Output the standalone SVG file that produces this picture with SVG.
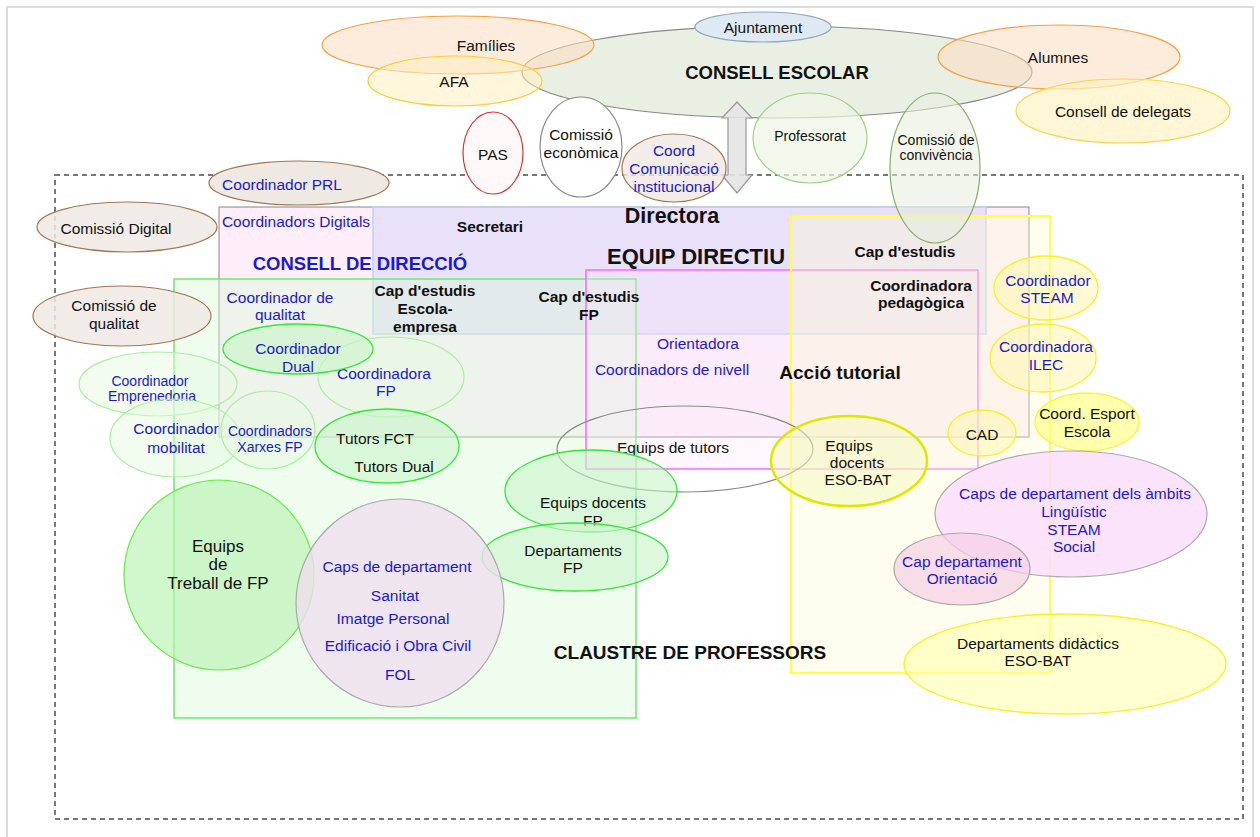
<svg xmlns="http://www.w3.org/2000/svg" width="1260" height="837" viewBox="0 0 1260 837">
<style>
text{font-family:"Liberation Sans",Arial,sans-serif;font-size:15.5px;fill:#111;text-anchor:middle;dominant-baseline:central}
.b{fill:#1a1acc}
.bold{font-weight:bold}
.s14{font-size:14px}
.brown{fill:#efe9e4;stroke:#a07850;stroke-width:1.2}
.gs{fill:#c9f5c9;fill-opacity:.6;stroke:#33e833;stroke-width:1.3}
.gl{fill:#e6fae0;fill-opacity:.5;stroke:#a8f0a0;stroke-width:1.2}
.yl{fill:#fff6b0;fill-opacity:.55;stroke:#ffee22;stroke-width:1.3}
</style>
<rect x="0" y="0" width="1260" height="837" fill="#fff"/>
<rect x="7" y="7" width="1246" height="845" fill="none" stroke="#ddd" stroke-width="2"/>
<g id="frame">
<rect x="55" y="175" width="1188" height="644" fill="none" stroke="#777" stroke-width="2" stroke-dasharray="5,4"/>
</g>
<g id="consell-direccio">
<rect x="219" y="207" width="810" height="230" fill="#fdeefa" stroke="#999" stroke-width="1.2"/>
</g>
<g id="equip-directiu">
<rect x="373" y="207" width="613" height="127" fill="#d8d6f8" fill-opacity=".55" stroke="#c0d0ee" stroke-width="1.5"/>
</g>
<g id="claustre">
<rect x="174" y="279" width="462" height="439" fill="#d8fbd8" fill-opacity=".4" stroke="#66ee66" stroke-width="1.5"/>
</g>
<g id="accio-tutorial">
<rect x="586" y="270" width="392" height="199" fill="#fde8fb" fill-opacity=".3" stroke="#ff66ff" stroke-width="1.5"/>
</g>
<g id="eso-bat">
<rect x="791" y="216" width="259" height="457" fill="#fffbcf" fill-opacity=".35" stroke="#ffff44" stroke-width="2"/>
</g>

<g id="n-consell-escolar"><ellipse cx="777" cy="72" rx="255" ry="46" fill="#e6ecdf" fill-opacity=".85" stroke="#888" stroke-width="1.2"/></g>
<g id="n-families"><ellipse cx="458" cy="45" rx="136" ry="29" fill="#fbdcc0" fill-opacity=".55" stroke="#f7a040" stroke-width="1.2"/><text x="486" y="45">Famílies</text></g>
<g id="n-afa"><ellipse cx="455" cy="81" rx="87" ry="25" fill="#ffefc0" fill-opacity=".55" stroke="#ffcc33" stroke-width="1.2"/><text x="454" y="81">AFA</text></g>
<g id="t-consell-escolar"><text class="bold" x="777" y="72" style="font-size:18.5px">CONSELL ESCOLAR</text></g>
<g id="n-ajuntament"><ellipse cx="763" cy="27" rx="68" ry="15" fill="#dfe9f3" stroke="#8fa6bc" stroke-width="1.2"/><text x="763" y="27">Ajuntament</text></g>
<g id="n-alumnes"><ellipse cx="1059" cy="57" rx="121" ry="32" fill="#fbdcc0" fill-opacity=".55" stroke="#f7a040" stroke-width="1.2"/><text x="1058" y="57">Alumnes</text></g>
<g id="n-delegats"><ellipse cx="1123" cy="111" rx="107" ry="32" fill="#fff2c4" fill-opacity=".7" stroke="#ffd24a" stroke-width="1.2"/><text x="1123" y="111">Consell de delegats</text></g>
<g id="n-pas"><ellipse cx="493" cy="153" rx="30" ry="41" fill="#fff8f8" stroke="#dd3333" stroke-width="1.2"/><text x="493" y="154">PAS</text></g>
<g id="n-economica"><ellipse cx="581" cy="147" rx="41" ry="50" fill="#fff" stroke="#888" stroke-width="1.2"/><text x="581" y="134">Comissió</text><text x="581" y="152">econòmica</text></g>
<g id="n-professorat"><ellipse cx="810" cy="138" rx="57" ry="45" fill="#eef5e6" fill-opacity=".7" stroke="#a6cc80" stroke-width="1.2"/><text class="s14" x="810" y="136">Professorat</text></g>
<g id="n-convivencia"><ellipse cx="935" cy="168" rx="45" ry="75" fill="#e6ecdc" fill-opacity=".55" stroke="#88aa66" stroke-width="1.2"/><text class="s14" x="936" y="140">Comissió de</text><text class="s14" x="936" y="155">convivència</text></g>

<g id="connectors">
<path d="M737,102 L752,118 L746,118 L746,175 L752,175 L737,193 L722,175 L728,175 L728,118 L722,118 Z" fill="#e4e4e4" fill-opacity=".9" stroke="#999" stroke-width="1.2"/>
</g>

<g id="n-comunicacio"><ellipse cx="674" cy="168" rx="52" ry="34" class="brown" fill-opacity=".8"/><text class="b" x="674" y="150">Coord</text><text class="b" x="674" y="168">Comunicació</text><text class="b" x="674" y="186">institucional</text></g>
<g id="n-prl"><ellipse cx="299" cy="183" rx="90" ry="22" class="brown"/><text class="b" x="282" y="184">Coordinador PRL</text></g>
<g id="n-com-digital"><ellipse cx="127" cy="227" rx="90" ry="25" class="brown" fill-opacity=".85"/><text x="116" y="228">Comissió Digital</text></g>
<g id="n-com-qualitat"><ellipse cx="122" cy="316" rx="89" ry="30" class="brown" fill-opacity=".85"/><text x="114" y="305">Comissió de</text><text x="114" y="323">qualitat</text></g>

<g id="labels-direccio">
<text class="b" x="296" y="221">Coordinadors Digitals</text>
<text class="bold" x="490" y="226">Secretari</text>
<text class="bold" x="672" y="216" style="font-size:21.5px">Directora</text>
<text class="bold b" x="360" y="263" style="font-size:18.5px">CONSELL DE DIRECCIÓ</text>
<text class="bold" x="696" y="256" style="font-size:22px">EQUIP DIRECTIU</text>
<text class="bold" x="905" y="251">Cap d'estudis</text>
<text class="b" x="280" y="297">Coordinador de</text>
<text class="b" x="280" y="314">qualitat</text>
<text class="bold" x="425" y="290">Cap d'estudis</text>
<text class="bold" x="425" y="308">Escola-</text>
<text class="bold" x="425" y="326">empresa</text>
<text class="bold" x="589" y="296">Cap d'estudis</text>
<text class="bold" x="589" y="314">FP</text>
<text class="bold" x="921" y="285">Coordinadora</text>
<text class="bold" x="921" y="302">pedagògica</text>
<text class="b" x="698" y="343">Orientadora</text>
<text class="b" x="672" y="369">Coordinadors de nivell</text>
<text class="bold" x="840" y="372" style="font-size:19px">Acció tutorial</text>
<text class="bold" x="690" y="652" style="font-size:19px">CLAUSTRE DE PROFESSORS</text>
</g>

<g id="n-steam"><ellipse cx="1046" cy="288" rx="52" ry="32" class="yl" fill="#fde8b0"/><text class="b" x="1048" y="280">Coordinador</text><text class="b" x="1047" y="297">STEAM</text></g>
<g id="n-ilec"><ellipse cx="1043" cy="358" rx="53" ry="34" class="yl" fill="#fde8b0"/><text class="b" x="1046" y="346">Coordinadora</text><text class="b" x="1046" y="364">ILEC</text></g>
<g id="n-esport"><ellipse cx="1087" cy="422" rx="52" ry="29" fill="#ffff90" fill-opacity=".75" stroke="#ffee44" stroke-width="1.3"/><text x="1087" y="413">Coord. Esport</text><text x="1087" y="431">Escola</text></g>
<g id="n-cad"><ellipse cx="982" cy="433" rx="34" ry="23" class="yl"/><text x="982" y="434">CAD</text></g>

<g id="n-emprenedoria"><ellipse cx="158" cy="384" rx="79" ry="32" class="gl"/><text class="b s14" x="150" y="381">Coordinador</text><text class="b s14" x="152" y="396">Emprenedoria</text></g>
<g id="n-mobilitat"><ellipse cx="175" cy="438" rx="65" ry="39" class="gl"/><text class="b" x="176" y="428">Coordinador</text><text class="b" x="176" y="447">mobilitat</text></g>
<g id="n-xarxes"><ellipse cx="268" cy="430" rx="47" ry="39" class="gl"/><text class="b s14" x="270" y="431">Coordinadors</text><text class="b s14" x="270" y="447">Xarxes FP</text></g>
<g id="n-coord-fp"><ellipse cx="391" cy="377" rx="73" ry="40" class="gl" fill="#d8f3d0"/><text class="b" x="384" y="373">Coordinadora</text><text class="b" x="386" y="390">FP</text></g>
<g id="n-dual"><ellipse cx="298" cy="349" rx="75" ry="25" class="gs"/><text class="b" x="298" y="348">Coordinador</text><text class="b" x="298" y="366">Dual</text></g>
<g id="n-tutors-fct"><ellipse cx="387" cy="446" rx="72" ry="37" class="gs"/><text x="375" y="438">Tutors FCT</text><text x="394" y="466">Tutors Dual</text></g>

<g id="n-equips-tutors"><ellipse cx="685" cy="449" rx="128" ry="43" fill="none" stroke="#888" stroke-width="1.2"/><text x="673" y="447">Equips de tutors</text></g>
<g id="n-docents-eso"><ellipse cx="849" cy="461" rx="78" ry="45" fill="#f4f8c0" fill-opacity=".55" stroke="#dde800" stroke-width="2.5"/><text x="849" y="445">Equips</text><text x="857" y="462">docents</text><text x="858" y="479">ESO-BAT</text></g>

<g id="n-docents-fp"><ellipse cx="591" cy="491" rx="86" ry="41" class="gs"/><text x="593" y="502">Equips docents</text><text x="593" y="520">FP</text></g>
<g id="n-dept-fp"><ellipse cx="575" cy="557" rx="93" ry="34" class="gs"/><text x="573" y="550">Departaments</text><text x="573" y="567">FP</text></g>

<g id="n-treball-fp"><circle cx="219" cy="575" r="95" fill="#b8f2b0" fill-opacity=".65" stroke="#66ee44" stroke-width="1.2"/><text x="218" y="546" style="font-size:17px">Equips</text><text x="218" y="564" style="font-size:17px">de</text><text x="218" y="583" style="font-size:17px">Treball de FP</text></g>
<g id="n-caps-fp"><circle cx="400" cy="603" r="104" fill="#eddeed" fill-opacity=".8" stroke="#aaa" stroke-width="1.2"/><text class="b" x="397" y="566">Caps de departament</text><text class="b" x="395" y="595">Sanitat</text><text class="b" x="393" y="618">Imatge Personal</text><text class="b" x="398" y="645">Edificació i Obra Civil</text><text class="b" x="400" y="674">FOL</text></g>

<g id="n-caps-ambits"><ellipse cx="1071" cy="514" rx="136" ry="63" fill="#fbdefb" fill-opacity=".85" stroke="#aaa" stroke-width="1.2"/><text class="b" x="1075" y="493">Caps de departament dels àmbits</text><text class="b" x="1074" y="511">Lingüístic</text><text class="b" x="1074" y="529">STEAM</text><text class="b" x="1074" y="546">Social</text></g>
<g id="n-cap-orientacio"><ellipse cx="962" cy="569" rx="68" ry="36" fill="#f5cfe6" fill-opacity=".7" stroke="#aaa" stroke-width="1.2"/><text class="b" x="962" y="561">Cap departament</text><text class="b" x="962" y="578">Orientació</text></g>
<g id="n-dept-didactics"><ellipse cx="1065" cy="664" rx="161" ry="50" fill="#ffffa8" fill-opacity=".55" stroke="#ffee22" stroke-width="1.3"/><text x="1038" y="643">Departaments didàctics</text><text x="1038" y="660">ESO-BAT</text></g>
</svg>
